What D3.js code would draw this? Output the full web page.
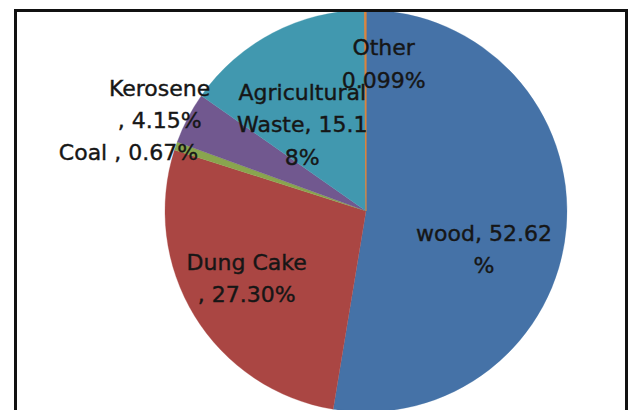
<!DOCTYPE html>
<html>
<head>
<meta charset="utf-8">
<script src="https://cdn.jsdelivr.net/npm/d3@7/dist/d3.min.js"></script>
<style>
  html, body { margin: 0; padding: 0; background: #fff; }
  svg { display: block; }
</style>
</head>
<body>
<svg id="chart" width="630" height="410"></svg>
<script>
// ---- data ----
const categories = ["wood", "Dung Cake", "Coal", "Kerosene", "Agricultural Waste", "Other"];
const values = [52.62, 27.30, 0.67, 4.15, 15.18, 0.099];
const colors = ["#4572A7", "#AA4643", "#89A54E", "#71588F", "#4198AF", "#DB843D"];
const labelLines = [
  ["wood, 52.62", "%"],
  ["Dung Cake", ", 27.30%"],
  ["Coal , 0.67%"],
  ["Kerosene", ", 4.15%"],
  ["Agricultural", "Waste, 15.1", "8%"],
  ["Other", "0.099%"]
];

// ---- layout ----
const W = 630, H = 410;
const cx = 366, cy = 211, R = 201;
const labelR = 120;
const lineH = 32.5;
// per-label offset from the label-arc centroid (first baseline)
const labelOffsets = [
  [-1.6, 20], [-17, -4], [-124, -12], [-100, -60], [-8, -5], [18, -36]
];

const svg = d3.select("#chart");
svg.append("rect").attr("width", W).attr("height", H).attr("fill", "#fff");

const data = categories.map((c, i) => ({ name: c, value: values[i], color: colors[i], lines: labelLines[i], off: labelOffsets[i] }));

const pie = d3.pie().sort(null).value(d => d.value);
const arcs = pie(data);
const arc = d3.arc().innerRadius(0).outerRadius(R);
const labelArc = d3.arc().innerRadius(labelR).outerRadius(labelR);

const g = svg.append("g").attr("transform", `translate(${cx},${cy})`);

g.selectAll("path.slice")
  .data(arcs)
  .enter().append("path")
  .attr("class", "slice")
  .attr("d", arc)
  .attr("fill", d => d.data.color)
  .attr("stroke", d => d.data.color)
  .attr("stroke-width", d => d.data.value < 0.5 ? 1.2 : 0.3);

const labels = g.selectAll("text.lbl")
  .data(arcs)
  .enter().append("text")
  .attr("class", "lbl")
  .attr("transform", d => {
    const c = labelArc.centroid(d);
    return `translate(${c[0] + d.data.off[0]},${c[1] + d.data.off[1]})`;
  })
  .attr("text-anchor", "middle")
  .attr("font-family", "DejaVu Sans, sans-serif")
  .attr("font-size", 22)
  .attr("fill", "#161616")
  .attr("stroke", "#161616")
  .attr("stroke-width", 0.4);

labels.selectAll("tspan")
  .data(d => d.data.lines)
  .enter().append("tspan")
  .attr("x", 0)
  .attr("y", (t, i) => i * lineH)
  .text(t => t);

// frame
svg.append("rect")
  .attr("x", 15.5).attr("y", 10.5)
  .attr("width", 611).attr("height", 420)
  .attr("fill", "none")
  .attr("stroke", "#111")
  .attr("stroke-width", 3);
</script>
</body>
</html>
